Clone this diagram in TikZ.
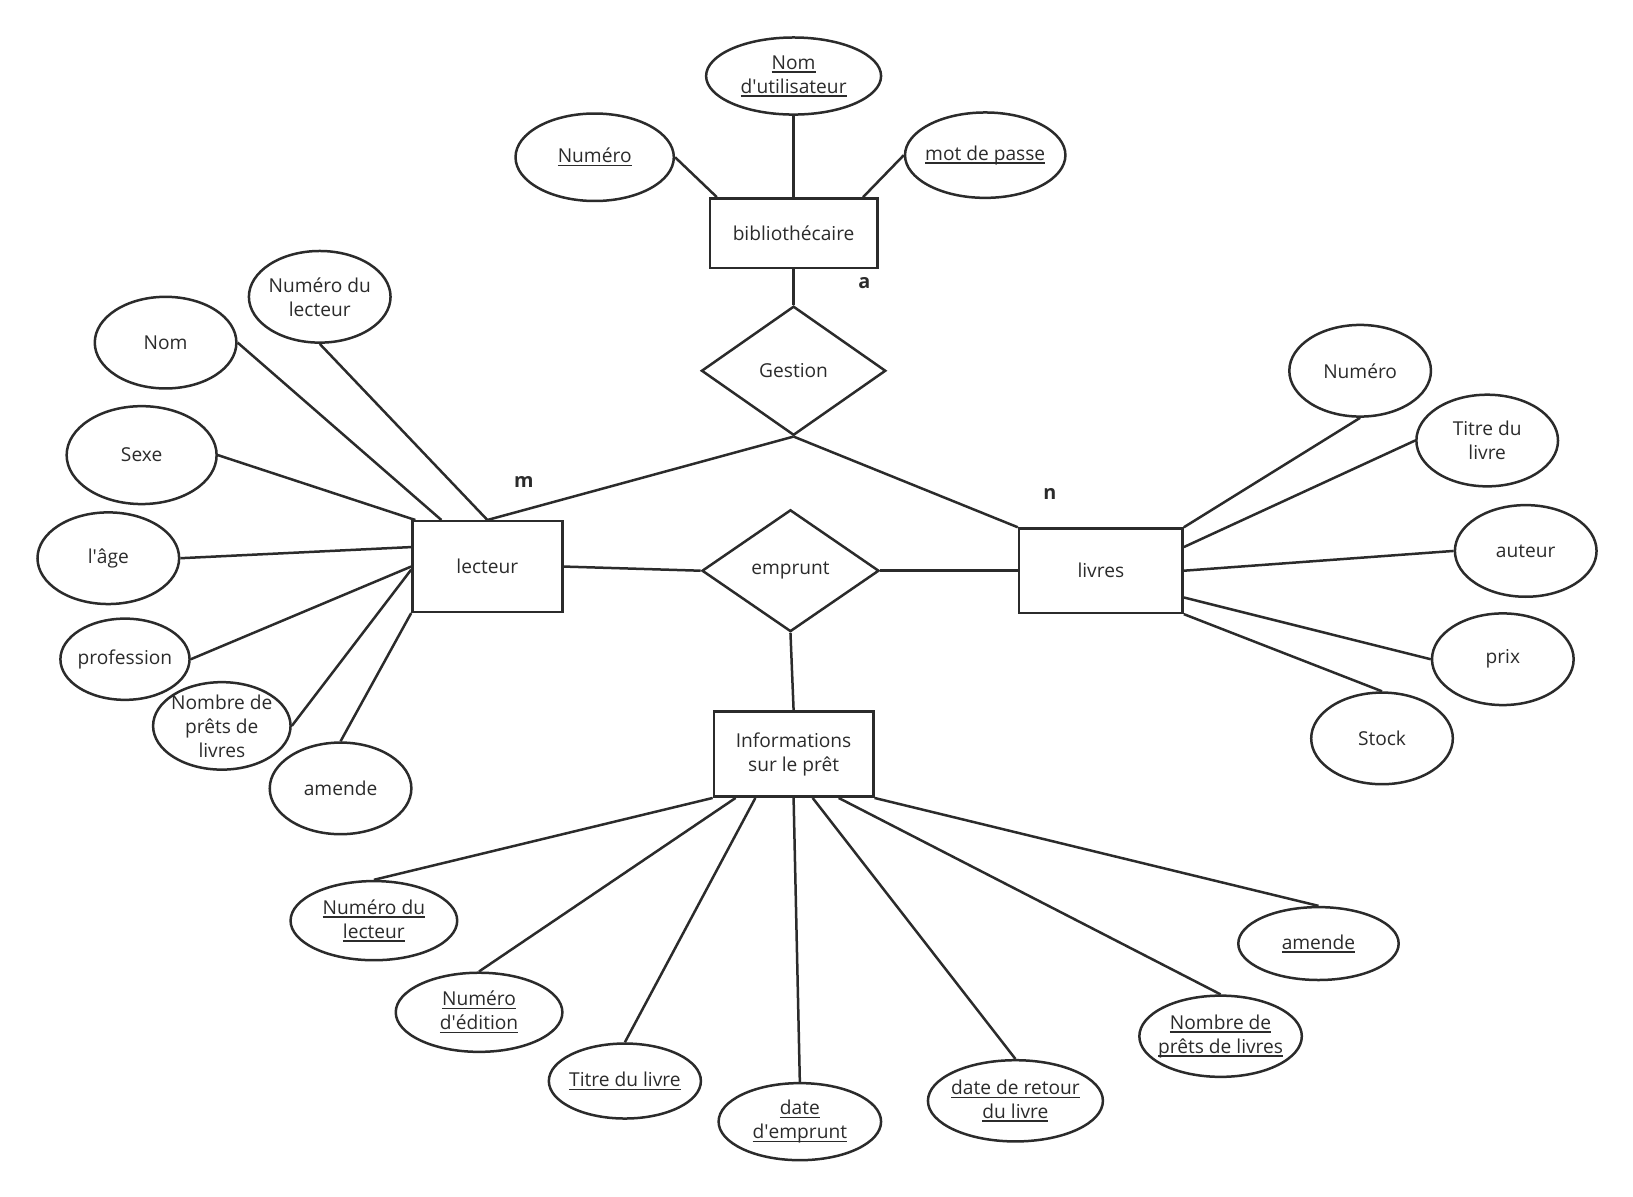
\documentclass[tikz,border=0pt]{standalone}
\usepackage{fontspec}
\setmainfont{Open Sans}
\usepackage{xcolor}
\usepackage{tikz}
\usetikzlibrary{shapes.geometric, calc}

\definecolor{ink}{HTML}{2B2B2B}
\newcommand{\pk}[1]{\setbox0\hbox{#1}\rlap{\color{ink}\rule[-1.7pt]{\wd0}{0.65pt}}\box0}

\begin{document}
\begin{tikzpicture}[
  x=0.5pt, y=-0.5pt,
  every node/.style={font=\fontsize{9.2}{11.5}\selectfont, text=ink},
  ent/.style={draw=ink, line width=1.2pt, rectangle, align=center, inner sep=0pt},
  rel/.style={draw=ink, line width=1.2pt, diamond, inner sep=0pt},
  attr/.style={draw=ink, line width=1.2pt, ellipse, align=center, inner sep=-4pt,
               minimum width=68pt, minimum height=44pt},
  card/.style={font=\fontsize{9.5}{11}\selectfont\bfseries},
  link/.style={draw=ink, line width=1.2pt},
]
  \useasboundingbox (0,0) rectangle (1568,1149);

  % bibliothécaire
  \node[ent, minimum width=80.5pt, minimum height=33.5pt] (bib) at (762,224) {bibliothécaire};
  \node[attr, minimum width=84pt, minimum height=37pt] (bnom) at (762,73) {\pk{Nom}\\\pk{d\textquotesingle utilisateur}};
  \node[attr, minimum width=76pt, minimum height=42pt] (bnum) at (571,151) {\pk{Numéro}};
  \node[attr, minimum width=77pt, minimum height=41pt] (bmdp) at (946,149) {\pk{mot de passe}};
  \node[rel, minimum width=88.5pt, minimum height=62pt] (gest) at (762,356) {Gestion};

  % lecteur
  \node[ent, minimum width=72pt, minimum height=43.5pt] (lect) at (468,544) {lecteur};
  \node[attr] (lnum) at (307,285) {Numéro du\\lecteur};
  \node[attr] (lnom) at (159,329) {Nom};
  \node[attr, minimum width=72pt, minimum height=47pt] (lsexe) at (136,437) {Sexe};
  \node[attr] (lage) at (104,536) {l\textquotesingle âge};
  \node[attr, minimum width=62pt, minimum height=39pt] (lprof) at (120,633) {profession};
  \node[attr, minimum width=66pt, minimum height=42pt, inner sep=-14pt] (lnb) at (213,697) {Nombre de\\prêts de\\livres};
  \node[attr] (lam) at (327,757) {amende};

  % livres
  \node[ent, minimum width=78.5pt, minimum height=40.5pt] (liv) at (1057,548) {livres};
  \node[attr] (vnum) at (1306,356) {Numéro};
  \node[attr] (vtit) at (1428,423) {Titre du\\livre};
  \node[attr] (vaut) at (1465,529) {auteur};
  \node[attr] (vprix) at (1443,633) {prix};
  \node[attr] (vstock) at (1327,709) {Stock};

  % emprunt / informations sur le prêt
  \node[rel, minimum width=85pt, minimum height=58.5pt] (emp) at (759,548) {emprunt};
  \node[ent, minimum width=76.5pt, minimum height=41pt] (info) at (762,724) {Informations\\sur le prêt};
  \node[attr, minimum width=80pt, minimum height=38pt] (inum) at (359,884) {\pk{Numéro du}\\\pk{lecteur}};
  \node[attr, minimum width=80pt, minimum height=38pt] (ied) at (460,972) {\pk{Numéro}\\\pk{d\textquotesingle édition}};
  \node[attr, minimum width=73pt, minimum height=36pt] (itit) at (600,1038) {\pk{Titre du livre}};
  \node[attr, minimum width=78pt, minimum height=37pt] (idate) at (768,1077) {\pk{date}\\\pk{d\textquotesingle emprunt}};
  \node[attr, minimum width=84pt, minimum height=39pt] (iret) at (975,1057) {\pk{date de retour}\\\pk{du livre}};
  \node[attr, minimum width=78pt, minimum height=39pt] (inb) at (1172,995) {\pk{Nombre de}\\\pk{prêts de livres}};
  \node[attr, minimum width=77pt, minimum height=35pt] (iam) at (1266,906) {\pk{amende}};

  % cardinalities
  \node[card] (ca) at (830,272) {a};
  \node[card] (cm) at (503,463) {m};
  \node[card] (cn) at (1008,474) {n};

  % relations
  \draw[link] (bnom.south) -- (bib.north);
  \draw[link] (bnum.east) -- ($(bib.north west)+(8,0)$);
  \draw[link] (bmdp.west) -- ($(bib.north east)+(-15,0)$);
  \draw[link] (bib.south) -- (gest.north);
  \draw[link] (gest.south) -- (lect.north);
  \draw[link] (gest.south) -- (liv.north west);
  \draw[link] (lect.east) -- (emp.west);
  \draw[link] (emp.east) -- (liv.west);
  \draw[link] (emp.south) -- (info.north);

  % lecteur attributes
  \draw[link] (lnum.south) -- (lect.north);
  \draw[link] (lnom.east) -- ($(lect.north west)+(29,0)$);
  \draw[link] (lsexe.east) -- ($(lect.north west)+(4,0)$);
  \draw[link] (lage.east) -- ($(lect.north west)+(0,26)$);
  \draw[link] (lprof.east) -- (lect.west);
  \draw[link] (lnb.east) -- ($(lect.west)+(0,3)$);
  \draw[link] (lam.north) -- (lect.south west);

  % livres attributes
  \draw[link] (vnum.south) -- (liv.north east);
  \draw[link] (vtit.west) -- ($(liv.north east)+(0,19)$);
  \draw[link] (vaut.west) -- (liv.east);
  \draw[link] (vprix.west) -- ($(liv.south east)+(0,-16)$);
  \draw[link] (vstock.north) -- (liv.south east);

  % loan attributes
  \draw[link] (inum.north) -- (info.south west);
  \draw[link] (ied.north) -- ($(info.south west)+(22,0)$);
  \draw[link] (itit.north) -- ($(info.south west)+(41,0)$);
  \draw[link] (idate.north) -- (info.south);
  \draw[link] (iret.north) -- ($(info.south west)+(96,0)$);
  \draw[link] (inb.north) -- ($(info.south west)+(121,0)$);
  \draw[link] (iam.north) -- (info.south east);
\end{tikzpicture}
\end{document}
